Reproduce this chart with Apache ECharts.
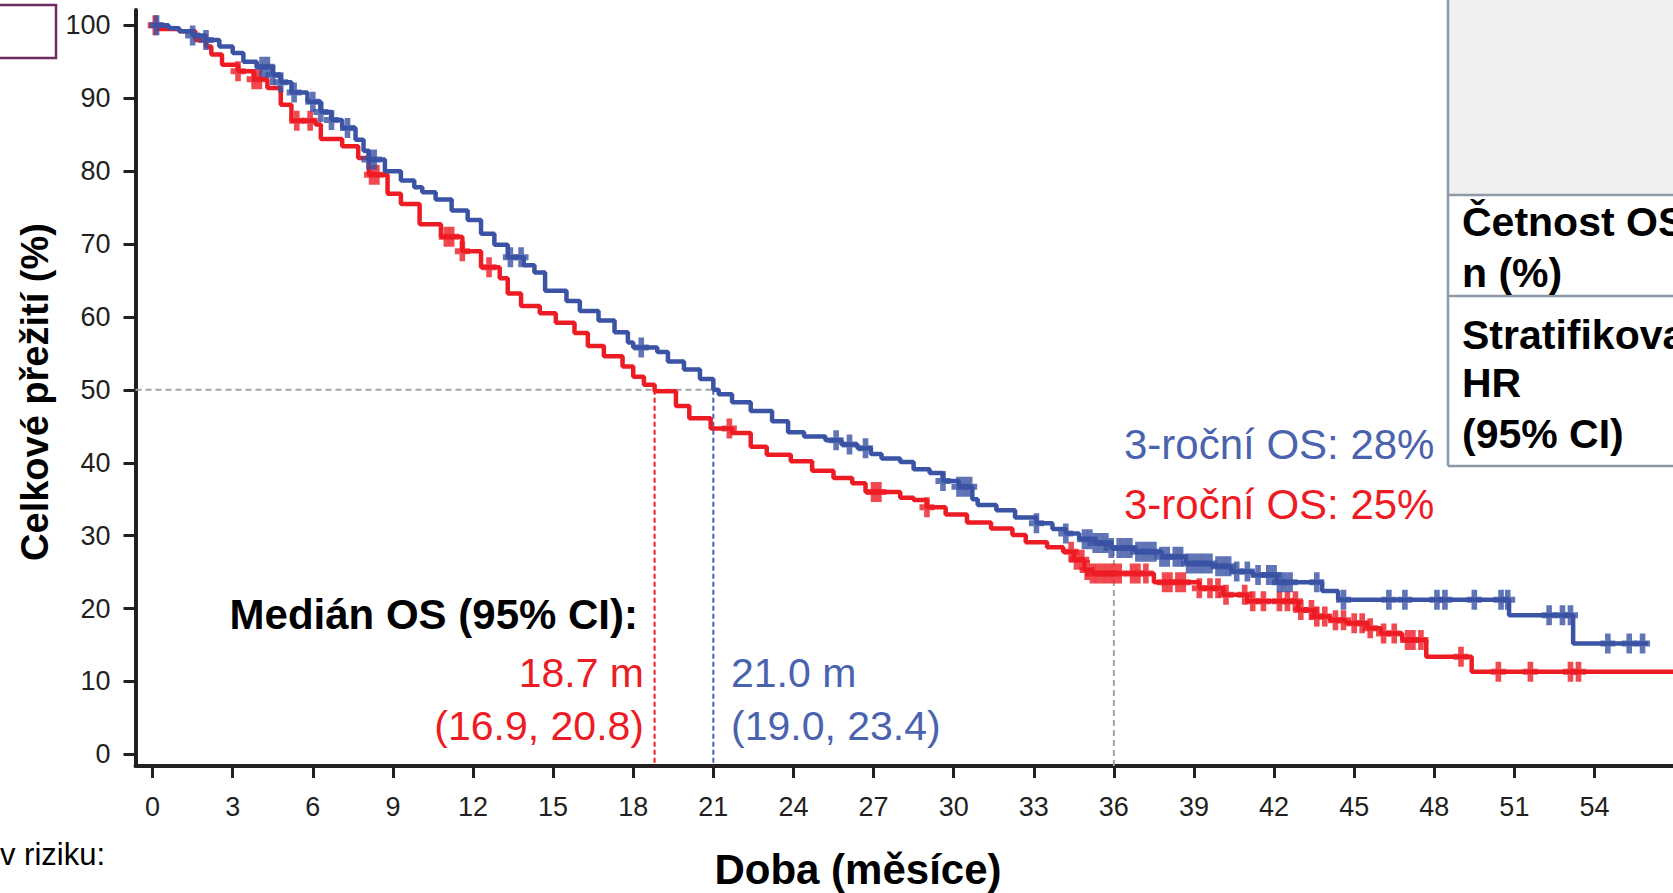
<!DOCTYPE html>
<html><head><meta charset="utf-8">
<script src="https://cdn.jsdelivr.net/npm/echarts@6/dist/echarts.min.js"></script>
<style>html,body{margin:0;padding:0;background:#fff}#c{width:1673px;height:893px}</style>
</head><body><div id="c"></div>
<script>
// ---------- DATA ----------
const xTicks = [0,3,6,9,12,15,18,21,24,27,30,33,36,39,42,45,48,51,54];
const yTicks = [0,10,20,30,40,50,60,70,80,90,100];

// Kaplan-Meier curves: [month, survival % after step]
const blueKM = [[0,100],[0.6,99.6],[1.0,99.2],[1.5,98.6],[2.0,98.0],[2.5,97.1],[3.0,96.2],[3.4,95.0],[3.9,94.3],[4.5,93.2],[4.8,92.2],[5.2,90.8],[5.8,89.5],[6.3,88.1],[6.7,87.0],[7.1,85.9],[7.6,84.3],[7.9,82.8],[8.1,81.6],[8.7,80.0],[9.3,78.7],[9.8,77.8],[10.1,77.1],[10.6,76.1],[11.2,74.6],[11.8,73.3],[12.3,71.4],[12.8,69.9],[13.3,68.2],[13.9,67.1],[14.3,66.1],[14.7,63.6],[15.5,62.2],[16.0,60.8],[16.7,59.5],[17.3,57.9],[17.8,56.5],[18.0,55.8],[18.9,55.2],[19.3,53.9],[19.9,52.8],[20.5,51.5],[21.0,50.0],[21.2,49.4],[21.7,48.3],[22.4,47.1],[23.2,45.7],[23.8,44.2],[24.4,43.6],[25.2,43.1],[25.8,42.5],[26.4,42.0],[26.9,41.2],[27.3,40.6],[28.0,40.1],[28.5,39.1],[29.1,38.6],[29.6,37.5],[30.2,36.7],[30.7,35.0],[30.9,34.2],[31.6,33.5],[32.3,32.5],[33.1,31.7],[33.7,30.9],[34.2,30.3],[34.7,29.5],[35.3,29.0],[35.9,28.3],[36.8,27.8],[37.8,27.1],[38.7,26.2],[39.7,25.8],[40.4,25.1],[41.2,24.6],[42.1,23.6],[43.8,22.4],[44.4,21.2],[50.8,19.1],[53.2,15.2],[56.0,15.2]];
const redKM = [[0,100],[0.2,99.5],[1.0,99.2],[1.6,98.0],[2.0,97.1],[2.2,96.0],[2.6,94.6],[3.2,93.7],[3.8,92.6],[4.3,91.4],[4.8,89.1],[5.2,86.9],[6.1,86.4],[6.3,84.4],[7.1,83.4],[7.7,81.8],[8.1,79.5],[8.8,76.9],[9.3,75.5],[10.0,72.7],[10.8,71.0],[11.6,69.0],[12.3,66.8],[13.0,65.3],[13.3,63.2],[13.8,61.5],[14.5,60.5],[15.1,59.2],[15.8,57.8],[16.3,56.0],[16.9,54.6],[17.6,53.2],[18.0,51.8],[18.4,50.7],[18.8,49.8],[19.6,47.8],[20.1,46.1],[20.9,44.7],[21.7,44.1],[22.4,42.2],[23.0,41.1],[23.9,40.2],[24.7,38.9],[25.5,37.9],[26.2,37.2],[26.7,36.0],[28.0,35.2],[28.5,34.9],[29.0,33.9],[29.7,32.9],[30.5,31.8],[31.4,31.0],[32.2,30.1],[32.7,29.1],[33.5,28.4],[34.1,27.8],[34.5,26.7],[34.9,25.3],[35.2,24.8],[37.5,23.6],[39.2,22.8],[40.1,21.9],[41.0,21.0],[42.9,19.8],[43.5,18.9],[44.1,18.4],[44.7,18.0],[45.5,17.3],[46.0,16.6],[46.8,15.7],[47.7,13.4],[49.4,11.35],[57.0,11.35]];

// censoring times (months)
const blueCensor = [0.15,1.5,2.0,4.1,4.3,4.5,4.8,5.3,6.0,6.3,6.7,7.3,8.1,8.3,13.4,13.8,18.3,25.6,26.1,26.7,29.6,30.2,30.4,30.6,33.1,34.2,34.9,35.1,35.3,35.5,35.7,35.9,36.2,36.4,36.6,36.9,37.1,37.3,37.5,37.8,38.0,38.3,38.5,38.8,39.0,39.2,39.4,39.6,39.9,40.1,40.3,40.6,41.0,41.4,41.8,42.0,42.2,42.4,42.6,43.6,44.6,46.3,46.9,48.1,48.4,49.5,50.5,50.75,52.3,52.8,53.1,54.5,55.3,55.8];
const redCensor = [0.1,3.2,3.8,4.0,5.4,5.9,8.2,8.4,11.0,11.2,11.6,12.6,21.6,27.0,27.2,29.0,34.4,34.6,34.8,35.0,35.2,35.4,35.6,35.8,36.0,36.2,36.7,36.9,37.2,37.9,38.1,38.4,38.6,39.2,39.6,39.9,40.2,40.9,41.2,41.6,42.2,42.5,42.8,43.0,43.4,43.6,43.9,44.3,44.6,45.0,45.3,45.6,46.1,46.5,47.0,47.2,47.5,49.0,50.4,51.6,53.1,53.4];

const medianRed = 18.8, medianBlue = 21.0, medianLevel = 50;
const landmarkMonth = 36, landmarkBlue = 28.3;
const medianRedText = ['18.7 m','(16.9, 20.8)'];
const medianBlueText = ['21.0 m','(19.0, 23.4)'];
const osText = ['3-roční OS: 28%','3-roční OS: 25%'];

// ---------- CHART ----------
const X_MIN = -0.64, X_MAX = 56.94, Y_MIN = -1.59, Y_MAX = 102.1;
const FONT = '"Liberation Sans", Arial, Helvetica, sans-serif';
const RED = '#ed1c24', BLUE = '#3a53a4', BLUE_T = '#4a63ae', AX = '#231f20';

function survAt(km, t) { let v = km[0][1]; for (const p of km) { if (p[0] <= t) v = p[1]; else break; } return v; }
const plus = 'path://M5,0H11V7H16V13H11V20H5V13H0V7H5Z';

const chart = echarts.init(document.getElementById('c'), null, {renderer: 'svg', width: 1673, height: 893});
function dash(data, color, width, type) {
  return {type: 'line', data, silent: true, showSymbol: false, symbol: 'none', animation: false, z: 1,
    lineStyle: {color, width, type}};
}
const txt = (x, y, text, size, color, align, weight, extra) => Object.assign({
  type: 'text', x, y, silent: true,
  style: {text, fill: color, align, verticalAlign: 'middle', font: (weight || 'normal') + ' ' + size + 'px ' + FONT}
}, extra || {});

chart.setOption({
  animation: false,
  backgroundColor: '#fff',
  grid: {left: 135.5, right: 0, top: 10, bottom: 127},
  xAxis: {type: 'value', min: X_MIN, max: X_MAX,
    axisLine: {show: true, onZero: false, lineStyle: {color: AX, width: 4}},
    axisTick: {show: true, length: 12, customValues: xTicks, lineStyle: {color: AX, width: 3}},
    axisLabel: {customValues: xTicks, fontSize: 27, color: AX, margin: 27, fontFamily: FONT},
    splitLine: {show: false}},
  yAxis: {type: 'value', min: Y_MIN, max: Y_MAX,
    axisLine: {show: true, onZero: false, lineStyle: {color: AX, width: 4}},
    axisTick: {show: true, length: 12, customValues: yTicks, lineStyle: {color: AX, width: 3}},
    axisLabel: {customValues: yTicks, fontSize: 27, color: AX, margin: 25, fontFamily: FONT},
    splitLine: {show: false}},
  series: [
    dash([[X_MIN, medianLevel], [medianBlue, medianLevel]], '#a3a3a3', 2, [6, 4]),
    dash([[medianRed, medianLevel], [medianRed, Y_MIN]], RED, 2, [5, 3]),
    dash([[medianBlue, medianLevel], [medianBlue, Y_MIN]], '#4a63ae', 2, [5, 3]),
    dash([[landmarkMonth, Y_MIN], [landmarkMonth, landmarkBlue]], '#a3a3a3', 2, [6, 4]),
    {type: 'line', step: 'end', data: redKM, showSymbol: false, symbol: 'none', z: 3,
      lineStyle: {color: RED, width: 4.5}, silent: true},
    {type: 'scatter', data: redCensor.map(t => [t, survAt(redKM, t)]), symbol: plus, symbolSize: [15, 20],
      itemStyle: {color: RED}, z: 4, silent: true},
    {type: 'line', step: 'end', data: blueKM, showSymbol: false, symbol: 'none', z: 5,
      lineStyle: {color: BLUE, width: 4.5}, silent: true},
    {type: 'scatter', data: blueCensor.map(t => [t, survAt(blueKM, t)]), symbol: plus, symbolSize: [15, 20],
      itemStyle: {color: BLUE}, z: 6, silent: true}
  ],
  graphic: [
    // right table (cropped)
    {type: 'rect', shape: {x: 1448, y: -2, width: 240, height: 197}, style: {fill: '#f0f0f0', stroke: '#8c99a6', lineWidth: 2.5}, silent: true},
    {type: 'line', shape: {x1: 1448, y1: 296, x2: 1680, y2: 296}, style: {stroke: '#8c99a6', lineWidth: 2.5}, silent: true},
    {type: 'line', shape: {x1: 1448, y1: 466, x2: 1680, y2: 466}, style: {stroke: '#8c99a6', lineWidth: 2.5}, silent: true},
    {type: 'line', shape: {x1: 1448, y1: 195, x2: 1448, y2: 466}, style: {stroke: '#8c99a6', lineWidth: 2.5}, silent: true},
    txt(1462, 222, 'Četnost OS', 41, '#000', 'left', 'bold'),
    txt(1462, 273, 'n (%)', 41, '#000', 'left', 'bold'),
    txt(1462, 335, 'Stratifikovaný', 41, '#000', 'left', 'bold'),
    txt(1462, 383, 'HR', 41, '#000', 'left', 'bold'),
    txt(1462, 434, '(95% CI)', 41, '#000', 'left', 'bold'),
    // legend box (cropped)
    {type: 'rect', shape: {x: -4, y: 5, width: 60, height: 53}, style: {fill: '#fff', stroke: '#6e2b62', lineWidth: 2.5}, silent: true},
    // axis titles
    txt(35, 392, 'Celkové přežití (%)', 38, '#000', 'center', 'bold', {rotation: Math.PI / 2}),
    txt(858, 869, 'Doba (měsíce)', 42, '#000', 'center', 'bold'),
    txt(0, 854, 'v riziku:', 31, '#000', 'left', 'normal'),
    // annotations
    txt(638, 614, 'Medián OS (95% CI):', 42, '#000', 'right', 'bold'),
    txt(644, 673, medianRedText[0], 41, RED, 'right'),
    txt(644, 726, medianRedText[1], 41, RED, 'right'),
    txt(731, 673, medianBlueText[0], 41, BLUE_T, 'left'),
    txt(731, 726, medianBlueText[1], 41, BLUE_T, 'left'),
    txt(1124, 444, osText[0], 42, BLUE_T, 'left'),
    txt(1124, 504, osText[1], 42, RED, 'left')
  ]
});
</script>
</body></html>
